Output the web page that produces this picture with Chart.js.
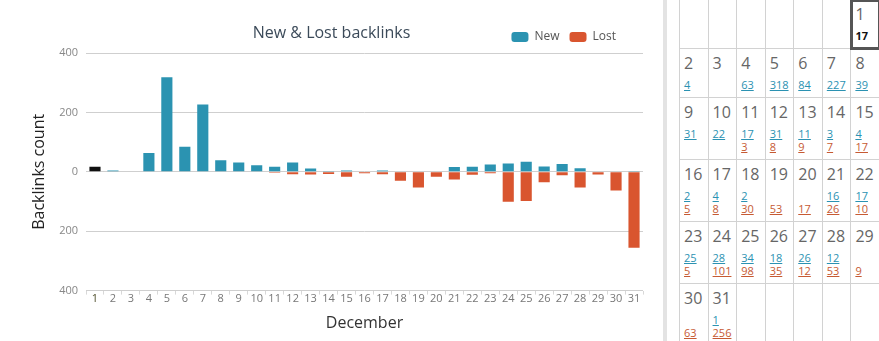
<!DOCTYPE html>
<html>
<head>
<meta charset="utf-8">
<title>New &amp; Lost backlinks</title>
<script src="https://cdn.jsdelivr.net/npm/chart.js@4.4.0/dist/chart.umd.min.js"></script>
<style>
body { margin: 0; background: #fff; font-family: "Open Sans", sans-serif; }
#wrap { position: relative; width: 879px; height: 341px; overflow: hidden; }
#graph { position: absolute; left: 0; top: 0; }
#sep { position: absolute; left: 663px; top: 0; width: 4px; height: 341px; background: #e3e3e3; }
#calendar { position: absolute; left: 679px; top: -1px; width: 201px; border-collapse: collapse; table-layout: fixed; }
#calendar td { border: 1px solid #d2d2d2; vertical-align: top; padding: 3px 0 6px 4px; overflow: hidden; }
#calendar .num { font-size: 16px; line-height: 22px; color: #666; }
#calendar .links { margin-top: 4px; }
#calendar .lnk { font-size: 11px; line-height: 13px; height: 13px; }
#calendar a { text-decoration: underline; }
#calendar a.new { color: #2b92b2; }
#calendar a.lost { color: #c65a33; }
#calendar .sel { font-size: 11px; line-height: 13px; font-weight: bold; color: #111; }
#calendar td.today { outline: 3px solid #555; outline-offset: -2px; }
</style>
</head>
<body>
<div id="wrap">
    <canvas id="graphCanvas" width="663" height="341"></canvas>
    <div id="sep"></div>
    <table id="calendar"></table>
</div>
<script>
var chartTitle = 'New & Lost backlinks';
var monthName = 'December';
var days = ['1','2','3','4','5','6','7','8','9','10','11','12','13','14','15','16',
            '17','18','19','20','21','22','23','24','25','26','27','28','29','30','31'];
var newVals = [17, 4, 0, 63, 318, 84, 227, 39, 31, 22, 17, 31, 11, 3, 4, 2,
               4, 2, 0, 0, 16, 17, 25, 28, 34, 18, 26, 12, 0, 0, 1];
var lostVals = [0, 0, 0, 0, 0, 0, 0, 0, 0, 0, 3, 8, 9, 7, 17, 5,
                8, 30, 53, 17, 26, 10, 5, 101, 98, 35, 12, 53, 9, 63, 256];
var yTicks = [-400, -200, 0, 200, 400];
var selectedDay = 1;
var firstWeekday = 6; // the 1st falls in the last column

var colorNew = '#2b93b1';
var colorLost = '#d9552f';
var colorSelected = '#111111';

// title drawn on the legend row, legend pulled a little left
var titlePlugin = {
    id: 'chartTitle',
    afterLayout: function (chart) {
        chart.legend.left -= 17;
        chart.legend.right -= 17;
    },
    afterDraw: function (chart) {
        var ctx = chart.ctx;
        ctx.save();
        ctx.font = '16px "Open Sans"';
        ctx.fillStyle = '#3b4a59';
        ctx.textAlign = 'center';
        ctx.textBaseline = 'middle';
        ctx.fillText(chartTitle, chart.width / 2, 33);
        ctx.restore();
    }
};

function showBarGraph() {
    Chart.defaults.font.family = '"Open Sans", sans-serif';

    var chartdata = {
        labels: days,
        datasets: [
        {
            label: 'New',
            backgroundColor: function (c) {
                return c.dataIndex === selectedDay - 1 ? colorSelected : colorNew;
            },
            data: newVals
        },
        {
            label: 'Lost',
            backgroundColor: colorLost,
            data: lostVals.map(function (v) { return -v; })
        }
        ]
    };

    window.grafica = new Chart(document.getElementById('graphCanvas'), {
        type: 'bar',
        data: chartdata,
        plugins: [titlePlugin],
        options: {
            responsive: false,
            animation: false,
            layout: { padding: { left: 26, right: 20, top: 21, bottom: 6 } },
            datasets: { bar: { categoryPercentage: 1, barPercentage: 0.62 } },
            plugins: {
                tooltip: { enabled: false },
                legend: {
                    position: 'top',
                    align: 'end',
                    labels: {
                        boxWidth: 17,
                        boxHeight: 10,
                        useBorderRadius: true,
                        borderRadius: 3,
                        padding: 10,
                        color: '#555',
                        font: { size: 12 },
                        generateLabels: function (chart) {
                            var items = Chart.defaults.plugins.legend.labels.generateLabels(chart);
                            items[0].fillStyle = colorNew;
                            items[0].strokeStyle = colorNew;
                            return items;
                        }
                    }
                }
            },
            scales: {
                x: {
                    stacked: true,
                    grid: { drawOnChartArea: false, drawTicks: true, tickLength: 4, color: '#d8d8d8', offset: true },
                    border: { display: false },
                    ticks: {
                        autoSkip: false,
                        maxRotation: 0,
                        padding: -2,
                        font: { size: 11 },
                        color: function (c) { return c.index === selectedDay - 1 ? '#4d4d2a' : '#777'; }
                    },
                    title: {
                        display: true,
                        text: monthName,
                        color: '#333',
                        font: { size: 16 },
                        padding: { top: 10, bottom: 2 }
                    }
                },
                y: {
                    stacked: true,
                    min: yTicks[0],
                    max: yTicks[yTicks.length - 1],
                    afterFit: function (scale) { scale.width = 60; },
                    afterBuildTicks: function (scale) {
                        scale.ticks = yTicks.map(function (v) { return { value: v }; });
                    },
                    grid: { color: '#cfcfcf', drawTicks: false },
                    border: { display: false },
                    ticks: {
                        padding: 8,
                        color: '#888',
                        font: { size: 11 },
                        callback: function (v) { return Math.abs(v); }
                    },
                    title: {
                        display: true,
                        text: 'Backlinks count',
                        color: '#222',
                        font: { size: 16 }
                    }
                }
            }
        }
    });
}

function buildCalendar() {
    var cells = [];
    for (var i = 0; i < firstWeekday; i++) {
        cells.push('<td></td>');
    }
    for (var d = 0; d < days.length; d++) {
        var s = '<div class="num">' + days[d] + '</div><div class="links">';
        if (d == selectedDay - 1) {
            s += '<div class="sel">' + newVals[d] + '</div>';
        } else {
            if (newVals[d] || lostVals[d]) {
                s += '<div class="lnk">' + (newVals[d] ? '<a class="new" href="#">' + newVals[d] + '</a>' : '&nbsp;') + '</div>';
            }
            if (lostVals[d]) {
                s += '<div class="lnk"><a class="lost" href="#">' + lostVals[d] + '</a></div>';
            }
        }
        s += '</div>';
        cells.push('<td' + (d == selectedDay - 1 ? ' class="today"' : '') + '>' + s + '</td>');
    }
    while (cells.length % 7) {
        cells.push('<td></td>');
    }
    var html = '';
    for (var r = 0; r < cells.length; r += 7) {
        html += '<tr>' + cells.slice(r, r + 7).join('') + '</tr>';
    }
    document.getElementById('calendar').innerHTML = html;
}

buildCalendar();
showBarGraph();
</script>
</body>
</html>
